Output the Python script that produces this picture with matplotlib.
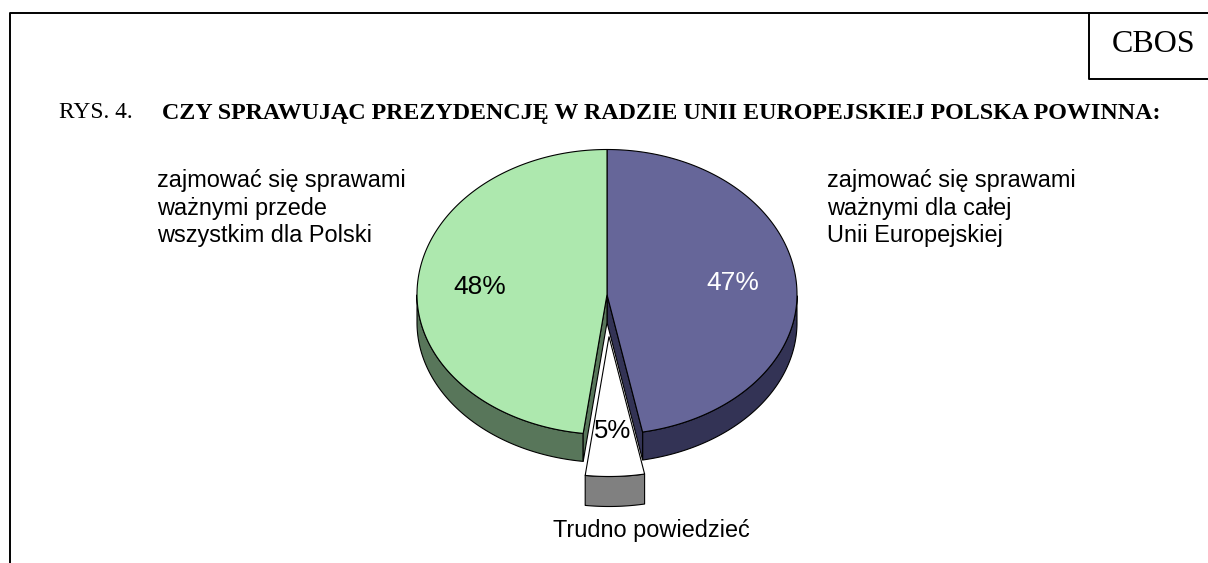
import numpy as np
import matplotlib
matplotlib.use('Agg')
import matplotlib.pyplot as plt
from matplotlib.patches import Polygon

# dane z wykresu
labels = ['zajmować się sprawami\nważnymi dla całej\nUnii Europejskiej',
          'Trudno powiedzieć',
          'zajmować się sprawami\nważnymi przede\nwszystkim dla Polski']
values = [47, 5, 48]
pct_labels = ['47%', '5%', '48%']
top_colors = ['#666699', '#ffffff', '#ade8ae']
side_colors = ['#333355', '#808080', '#58765a']
pct_colors = ['white', 'black', 'black']
title_left = 'RYS. 4.'
title_bold = 'CZY SPRAWUJĄC PREZYDENCJĘ W RADZIE UNII EUROPEJSKIEJ POLSKA POWINNA:'

W, H = 1208, 563
fig = plt.figure(figsize=(W / 100, H / 100), dpi=100)
ax = fig.add_axes([0, 0, 1, 1])
ax.set_xlim(0, W)
ax.set_ylim(H, 0)
ax.axis('off')

SANS = 'Liberation Sans'
SERIF = 'Liberation Serif'

# ramka
ax.plot([10, 10, W], [H, 12.5, 12.5], color='black', lw=1.4)
ax.plot([1089, 1089, W], [12.5, 78.5, 78.5], color='black', lw=1.4)
ax.text(1153.5, 45, 'CBOS', family=SERIF, fontsize=23, ha='center', va='center')
ax.text(59, 118.5, title_left, family=SERIF, fontsize=16.8, va='baseline')
ax.text(162, 118.5, title_bold, family=SERIF, fontsize=17.25, weight='bold', va='baseline')

# pierscien kolowy
cx, cy = 607, 294.5
rx, ry_up, ry_down = 190, 145, 140
depth = 28


def pt(a, ox=0, oy=0):
    a = np.radians(a)
    ry = np.where(np.sin(a) >= 0, ry_up, ry_down)
    return cx + ox + rx * np.cos(a), cy + oy - ry * np.sin(a)


def slice_faces(a0, a1, color, side, ox=0, oy=0, d=depth):
    # a0 > a1, zgodnie z ruchem wskazowek
    aa = np.linspace(a0, a1, 300)
    x, y = pt(aa, ox, oy)
    ax_x, ax_y = cx + ox, cy + oy
    # bok zewnetrzny
    vis = np.sin(np.radians(aa)) <= 0
    if vis.any():
        xs, ys = x[vis], y[vis]
        ax.add_patch(Polygon(np.r_[np.c_[xs, ys], np.c_[xs[::-1], ys[::-1] + d]],
                             fc=side, ec='black', lw=0.8, joinstyle='round'))
    return aa, x, y, ax_x, ax_y


starts = 90 - np.cumsum([0] + values[:-1]) * 3.6
ends = 90 - np.cumsum(values) * 3.6
explode = [(0, 0), (2, 42), (0, 0)]

# najpierw duze kawalki, potem wyciety
for i in [0, 2]:
    aa, x, y, ax_x, ax_y = slice_faces(starts[i], ends[i], top_colors[i], side_colors[i])
    # sciana wewnetrzna widoczna przy wycietym kawalku
    a_in = ends[i] if i == 0 else starts[i]
    ex, ey = pt(a_in)
    ax.add_patch(Polygon([[ax_x, ax_y], [ex, ey], [ex, ey + depth], [ax_x, ax_y + depth]],
                         fc=side_colors[i], ec='black', lw=0.8))
    ax.add_patch(Polygon(np.r_[[[ax_x, ax_y]], np.c_[x, y]], fc=top_colors[i], ec='black', lw=0.8))

i = 1
ox, oy = explode[i]
aa, x, y, ax_x, ax_y = slice_faces(starts[i], ends[i], top_colors[i], side_colors[i], ox, oy, 30)
ax.add_patch(Polygon(np.r_[[[ax_x, ax_y]], np.c_[x, y]], fc=top_colors[i], ec='black', lw=0.8))

# etykiety procentowe
pct_pos = [(732.5, 283), (613, 431), (480, 287)]
pct_sizes = [19, 18.5, 19]
for s, p, c, fs in zip(pct_labels, pct_pos, pct_colors, pct_sizes):
    ax.text(p[0], p[1], s, family=SANS, fontsize=fs, color=c, ha='center', va='center')

# opisy kawalkow
ax.text(827, 208, labels[0], family=SANS, fontsize=16.9, va='center', linespacing=1.25)
ax.text(651, 530, labels[1], family=SANS, fontsize=16.9, ha='center', va='center')
ax.text(157, 208, labels[2], family=SANS, fontsize=16.9, va='center', linespacing=1.25)

fig.savefig('out.png', dpi=100)
